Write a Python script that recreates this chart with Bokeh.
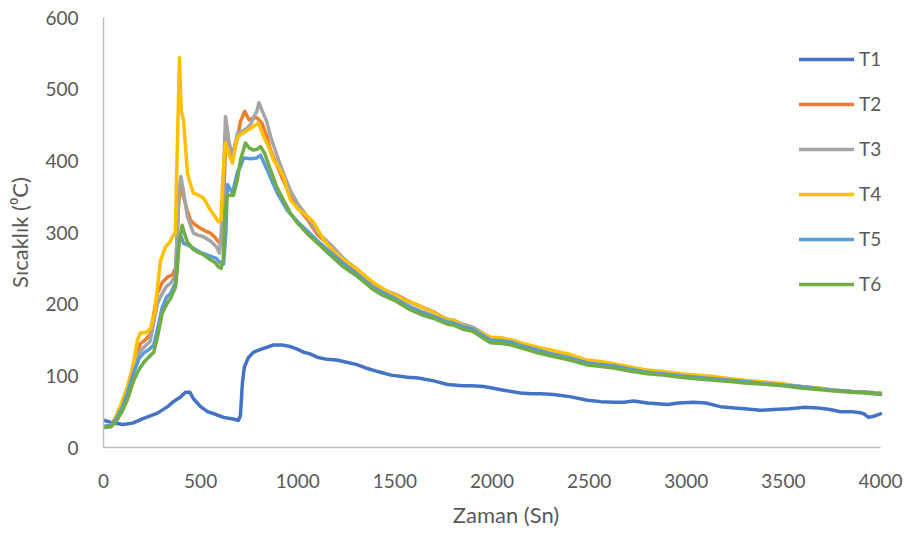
from bokeh.plotting import figure
from bokeh.models import Range1d, SingleIntervalTicker, Legend, LegendItem
from bokeh.embed import file_html
from bokeh.resources import INLINE

# Temperature readings (time in seconds, temperature in degrees C) per thermocouple
T1 = [(0, 38), (40, 35), (100, 32), (150, 34), (200, 40), (278, 48), (330, 57), (360, 64),
      (395, 70), (422, 77), (445, 77), (463, 68), (500, 57), (535, 50), (580, 46), (618, 42),
      (660, 40), (695, 38), (705, 45), (715, 90), (725, 112), (745, 125), (772, 133), (820, 138),
      (875, 143), (920, 143), (960, 141), (1000, 137), (1030, 133), (1060, 131), (1100, 126),
      (1150, 123), (1200, 122), (1235, 120), (1300, 116), (1350, 111), (1400, 107), (1426, 105),
      (1480, 101), (1565, 98), (1620, 97), (1700, 93), (1771, 88), (1850, 86), (1900, 86),
      (1956, 85), (2000, 83), (2060, 80), (2147, 76), (2200, 75), (2250, 75), (2317, 74),
      (2400, 71), (2492, 66), (2560, 64), (2626, 63), (2680, 63), (2729, 65), (2800, 62),
      (2850, 61), (2904, 60), (2960, 62), (3037, 63), (3100, 62), (3176, 57), (3250, 55),
      (3300, 54), (3382, 52), (3450, 53), (3530, 54), (3604, 56), (3680, 55), (3740, 53),
      (3794, 50), (3850, 50), (3887, 49), (3915, 47), (3938, 42), (3970, 44), (4000, 47)]

T2 = [(0, 29), (40, 31), (69, 44), (95, 60), (122, 82), (156, 118), (190, 145), (215, 150),
      (240, 158), (278, 215), (302, 230), (330, 238), (355, 241), (371, 250), (380, 300),
      (388, 345), (398, 365), (412, 350), (432, 330), (448, 317), (475, 310), (499, 306),
      (525, 302), (551, 299), (575, 293), (592, 287), (606, 283), (616, 330), (628, 420),
      (640, 430), (664, 408), (690, 432), (705, 455), (727, 469), (750, 457), (772, 460),
      (790, 460), (815, 453), (840, 435), (860, 415), (895, 392), (930, 370), (963, 350),
      (1000, 335), (1050, 318), (1102, 297), (1170, 280), (1235, 262), (1300, 248), (1390, 227),
      (1426, 221), (1500, 214), (1580, 203), (1650, 195), (1700, 189), (1771, 178), (1800, 177),
      (1850, 171), (1900, 167), (1992, 153), (2050, 152), (2100, 150), (2150, 145), (2234, 139),
      (2300, 134), (2400, 128), (2492, 121), (2560, 118), (2626, 116), (2700, 112), (2800, 107),
      (2880, 105), (2970, 102), (3050, 100), (3140, 97), (3228, 95), (3300, 93), (3417, 90),
      (3500, 88), (3588, 85), (3680, 82), (3760, 80), (3850, 78), (3920, 77), (4000, 76)]

T3 = [(0, 29), (40, 31), (69, 44), (95, 58), (122, 80), (156, 112), (185, 132), (208, 140),
      (240, 148), (278, 201), (302, 215), (325, 225), (345, 229), (371, 240), (380, 300),
      (388, 355), (398, 378), (410, 360), (432, 322), (463, 299), (490, 296), (515, 294),
      (550, 288), (581, 280), (597, 271), (606, 300), (616, 364), (628, 462), (640, 440),
      (647, 420), (664, 406), (690, 439), (720, 442), (741, 446), (760, 452), (772, 460),
      (790, 470), (800, 481), (815, 471), (840, 455), (860, 434), (895, 406), (930, 380),
      (963, 358), (1000, 340), (1050, 322), (1102, 300), (1170, 283), (1235, 264), (1300, 250),
      (1390, 228), (1426, 222), (1500, 213), (1580, 202), (1650, 194), (1700, 188), (1771, 179),
      (1800, 178), (1850, 172), (1900, 168), (1992, 153), (2050, 152), (2100, 149), (2150, 145),
      (2234, 138), (2300, 134), (2400, 128), (2492, 120), (2560, 118), (2626, 115), (2700, 111),
      (2800, 107), (2880, 104), (2970, 101), (3050, 99), (3140, 97), (3228, 95), (3300, 93),
      (3417, 90), (3500, 88), (3588, 85), (3680, 83), (3760, 80), (3850, 78), (3920, 77),
      (4000, 76)]

T4 = [(0, 28), (40, 30), (62, 42), (90, 60), (122, 84), (150, 110), (175, 150), (190, 160),
      (215, 160), (242, 166), (265, 190), (278, 224), (293, 260), (319, 280), (340, 286),
      (355, 294), (370, 300), (380, 420), (391, 544), (400, 470), (412, 457), (432, 383),
      (450, 365), (463, 355), (490, 352), (515, 348), (551, 331), (575, 322), (592, 315),
      (605, 318), (612, 364), (620, 400), (628, 425), (645, 410), (664, 397), (690, 434),
      (721, 439), (750, 444), (772, 448), (798, 453), (824, 434), (850, 420), (875, 401),
      (900, 392), (927, 378), (945, 360), (963, 345), (1000, 333), (1030, 327), (1080, 315),
      (1133, 290), (1180, 275), (1235, 262), (1300, 250), (1390, 230), (1426, 224), (1480, 215),
      (1544, 206), (1596, 201), (1650, 194), (1700, 188), (1771, 178), (1800, 178), (1850, 170),
      (1900, 165), (1992, 154), (2050, 153), (2100, 150), (2150, 146), (2234, 140), (2300, 136),
      (2400, 130), (2492, 122), (2560, 120), (2626, 117), (2700, 113), (2800, 108), (2880, 106),
      (2970, 103), (3050, 101), (3140, 99), (3228, 96), (3300, 94), (3417, 91), (3500, 89),
      (3588, 84), (3680, 83), (3760, 80), (3850, 78), (3920, 77), (4000, 76)]

T5 = [(0, 29), (40, 31), (69, 42), (95, 55), (122, 75), (156, 105), (185, 125), (208, 132),
      (240, 138), (259, 143), (278, 165), (302, 195), (325, 210), (345, 215), (371, 230),
      (380, 262), (390, 290), (400, 294), (412, 285), (432, 283), (463, 278), (500, 272),
      (540, 268), (581, 264), (600, 258), (618, 256), (630, 300), (638, 367), (664, 355),
      (690, 385), (705, 392), (721, 404), (760, 403), (790, 404), (808, 408), (843, 387),
      (870, 370), (895, 355), (946, 331), (999, 315), (1050, 302), (1102, 288), (1170, 272),
      (1235, 257), (1300, 243), (1390, 223), (1426, 218), (1500, 208), (1580, 196), (1650, 188),
      (1700, 183), (1771, 175), (1800, 174), (1850, 169), (1900, 165), (1992, 150), (2050, 149),
      (2100, 147), (2150, 142), (2234, 136), (2300, 131), (2400, 125), (2492, 118), (2560, 116),
      (2626, 114), (2700, 110), (2800, 105), (2880, 103), (2970, 100), (3050, 98), (3140, 96),
      (3228, 94), (3300, 92), (3417, 89), (3500, 87), (3588, 85), (3680, 82), (3760, 80),
      (3850, 78), (3920, 77), (4000, 75)]

T6 = [(0, 28), (40, 29), (69, 38), (95, 50), (122, 66), (156, 94), (185, 110), (208, 119),
      (240, 128), (259, 133), (278, 154), (302, 187), (325, 200), (345, 208), (371, 224),
      (380, 250), (388, 280), (398, 300), (405, 310), (420, 296), (432, 287), (463, 276),
      (490, 272), (515, 269), (551, 262), (575, 258), (592, 252), (605, 250), (616, 262),
      (622, 300), (628, 336), (638, 352), (669, 352), (690, 375), (705, 401), (731, 425),
      (750, 418), (772, 415), (790, 416), (808, 420), (830, 410), (860, 387), (890, 365),
      (927, 345), (960, 328), (999, 313), (1050, 298), (1102, 285), (1170, 268), (1235, 252),
      (1300, 240), (1390, 220), (1426, 214), (1500, 205), (1580, 192), (1650, 184), (1700, 180),
      (1771, 172), (1800, 171), (1850, 165), (1900, 162), (1992, 146), (2050, 145), (2100, 143),
      (2150, 139), (2234, 132), (2300, 128), (2400, 122), (2492, 115), (2560, 113), (2626, 111),
      (2700, 107), (2800, 103), (2880, 101), (2970, 98), (3050, 96), (3140, 94), (3228, 92),
      (3300, 90), (3417, 88), (3500, 86), (3588, 83), (3680, 81), (3760, 79), (3850, 77),
      (3920, 76), (4000, 74)]

SERIES = [("T1", T1, "#4472C4"), ("T2", T2, "#ED7D31"), ("T3", T3, "#A5A5A5"),
          ("T4", T4, "#FFC000"), ("T5", T5, "#5B9BD5"), ("T6", T6, "#70AD47")]

X_END = 4000
FONT = "Lato"
TEXT = "#595959"

# The frame runs to the right edge so the legend has room; the x axis line stops at 4000.
p = figure(width=908, height=533, output_backend="svg", toolbar_location=None,
           x_range=Range1d(0, 4144), y_range=Range1d(0, 600),
           min_border_left=103, min_border_right=0, min_border_top=17, min_border_bottom=86)
p.outline_line_color = None
p.xgrid.grid_line_color = None
p.ygrid.grid_line_color = None

items = []
for name, pts, color in SERIES:
    xs = [t for t, _ in pts]
    ys = [v for _, v in pts]
    r = p.line(xs, ys, line_color=color, line_width=3.5, line_join="round", line_cap="round")
    items.append(LegendItem(label=name, renderers=[r]))

for ax in (p.xaxis[0], p.yaxis[0]):
    ax.axis_line_color = "#BFBFBF"
    ax.axis_line_width = 1.5
    ax.major_tick_line_color = None
    ax.minor_tick_line_color = None
    ax.major_tick_out = 0
    ax.major_tick_in = 0
    ax.major_label_text_font = FONT
    ax.major_label_text_font_size = "19px"
    ax.major_label_text_color = TEXT
    ax.axis_label_text_font = FONT
    ax.axis_label_text_font_size = "22px"
    ax.axis_label_text_font_style = "normal"
    ax.axis_label_text_color = TEXT

p.xaxis[0].bounds = (0, X_END)
p.xaxis[0].ticker = SingleIntervalTicker(interval=500)
p.yaxis[0].ticker = SingleIntervalTicker(interval=100)
p.xaxis[0].axis_label = "Zaman (Sn)"
p.yaxis[0].axis_label = "Sıcaklık (⁰C)"
p.xaxis[0].major_label_standoff = 22
p.yaxis[0].major_label_standoff = 21
p.xaxis[0].axis_label_standoff = 10
p.yaxis[0].axis_label_standoff = 9

legend = Legend(items=items, location=(696, 152), glyph_width=55, glyph_height=20,
                label_height=20, spacing=22, padding=0, margin=0, label_standoff=5,
                border_line_color=None, background_fill_alpha=0,
                label_text_font=FONT, label_text_font_size="19px", label_text_color=TEXT)
p.add_layout(legend)

open("out.html", "w").write(file_html(p, INLINE))
